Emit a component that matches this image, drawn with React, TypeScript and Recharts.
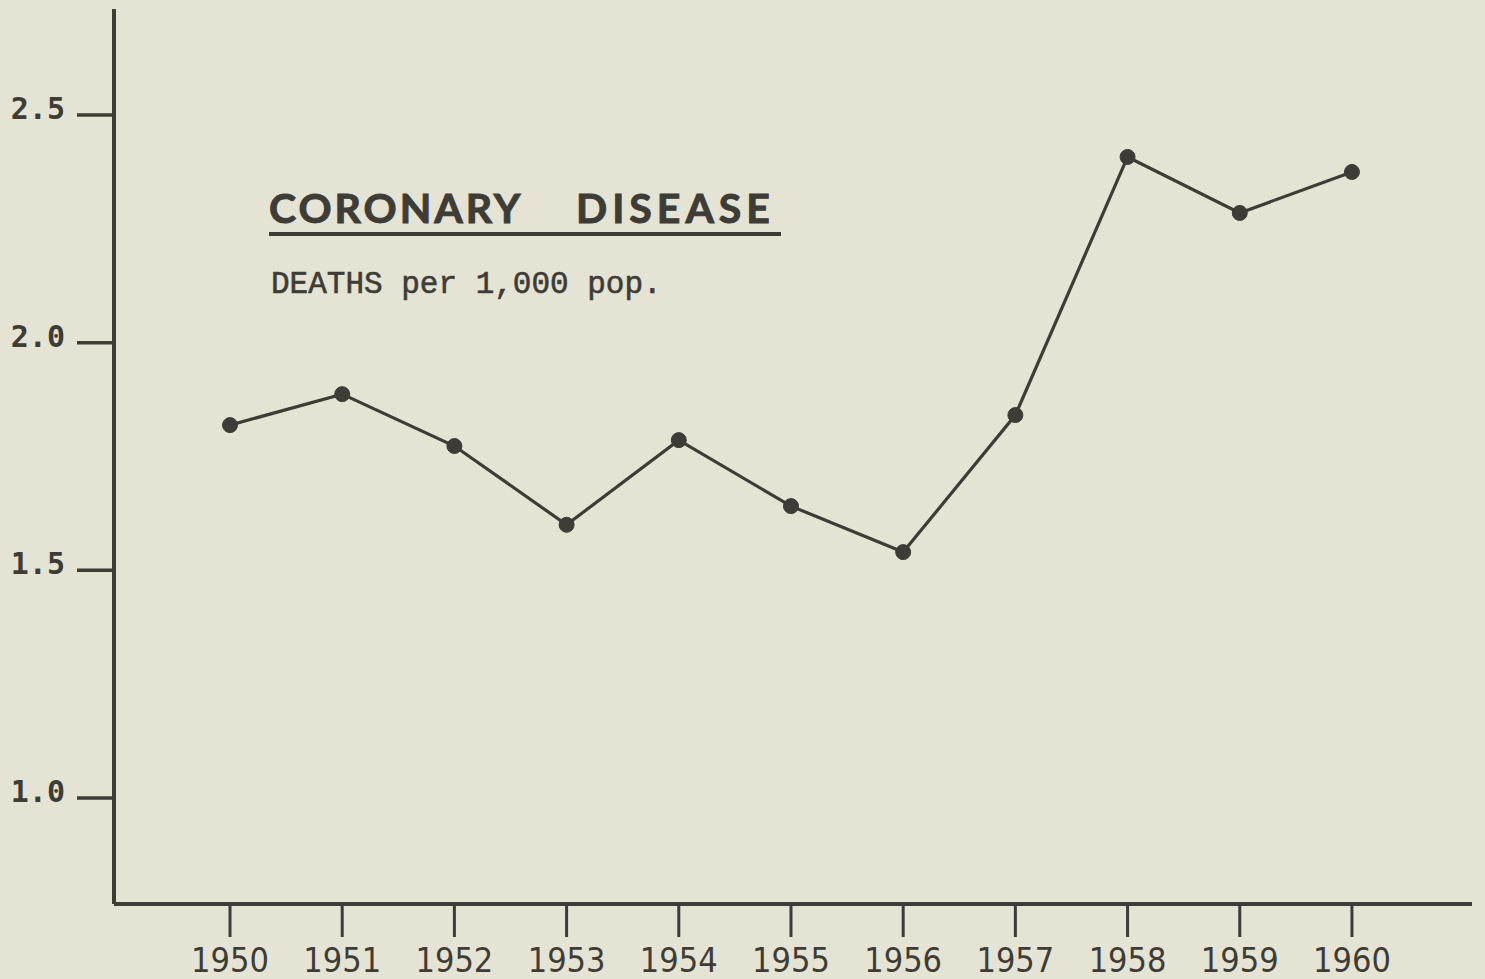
import React from 'react';
import { LineChart, Line, XAxis, YAxis } from 'recharts';

const years = [1950, 1951, 1952, 1953, 1954, 1955, 1956, 1957, 1958, 1959, 1960];
const deathsPer1000 = [1.819, 1.887, 1.773, 1.6, 1.786, 1.641, 1.54, 1.841, 2.408, 2.285, 2.375];
const yTickValues = [1.0, 1.5, 2.0, 2.5];
const yTickLabels = ['1.0', '1.5', '2.0', '2.5'];
const xTickLabels = years.map(String);
const titleWords = ['CORONARY', 'DISEASE'];
const subtitleText = 'DEATHS per 1,000 pop.';

const data = years.map((year, i) => ({ year, value: deathsPer1000[i] }));

const INK = '#3d3c36';
const PAPER = '#e5e3d3';
const W = 1485;
const H = 979;

function YTick(props: any) {
  const { x, y, payload } = props;
  const idx = yTickValues.indexOf(payload.value);
  return (
    <text
      x={x}
      y={y + 4}
      textAnchor="end"
      fill={INK}
      fontFamily="'DejaVu Sans Mono', monospace"
      fontWeight="bold"
      fontSize={30}
    >
      {idx >= 0 ? yTickLabels[idx] : payload.value}
    </text>
  );
}

function XTick(props: any) {
  const { x, y, payload } = props;
  const idx = years.indexOf(payload.value);
  return (
    <text
      x={x}
      y={y + 35}
      textAnchor="middle"
      fill={INK}
      fontFamily="'DejaVu Sans Condensed', 'DejaVu Sans', sans-serif"
      style={{ fontStretch: 'condensed' }}
      fontSize={34}
    >
      {idx >= 0 ? xTickLabels[idx] : payload.value}
    </text>
  );
}

export default function App() {
  return (
    <div style={{ position: 'absolute', left: 0, top: 0, width: W, height: H, background: PAPER, overflow: 'hidden' }}>
      <LineChart
        width={W}
        height={H}
        data={data}
        margin={{ top: 9, right: 13, bottom: 0, left: 0 }}
      >
        <XAxis
          dataKey="year"
          type="number"
          domain={[1948.966, 1961.07]}
          ticks={years}
          allowDataOverflow
          height={75}
          axisLine={{ stroke: INK, strokeWidth: 4 }}
          tickLine={{ stroke: INK, strokeWidth: 3 }}
          tickSize={33}
          tickMargin={0}
          tick={<XTick />}
          interval={0}
        />
        <YAxis
          dataKey="value"
          type="number"
          domain={[0.767, 2.733]}
          ticks={yTickValues}
          allowDataOverflow
          width={114}
          axisLine={{ stroke: INK, strokeWidth: 4 }}
          tickLine={{ stroke: INK, strokeWidth: 3.5 }}
          tickSize={37}
          tickMargin={12}
          tick={<YTick />}
          interval={0}
        />
        <Line
          type="linear"
          dataKey="value"
          stroke={INK}
          strokeWidth={3.2}
          dot={{ r: 7.5, fill: INK, stroke: INK, strokeWidth: 1 }}
          activeDot={false}
          isAnimationActive={false}
        />
      </LineChart>
      <svg width={W} height={H} style={{ position: 'absolute', left: 0, top: 0, pointerEvents: 'none' }}>
        <text
          y={223}
          fill={INK}
          stroke={INK}
          strokeWidth={1}
          fontFamily="Lato, 'DejaVu Sans', sans-serif"
          fontWeight="bold"
          fontSize={41}
        >
          <tspan x={269} letterSpacing={3}>{titleWords[0]}</tspan>
          <tspan x={576} letterSpacing={5}>{titleWords[1]}</tspan>
        </text>
        <line x1={269} x2={781} y1={234} y2={234} stroke={INK} strokeWidth={4} />
        <text
          x={271}
          y={293}
          fill={INK}
          fontFamily="'Liberation Mono', 'Courier New', monospace"
          fontSize={31}
          stroke={INK}
          strokeWidth={0.6}
        >
          {subtitleText}
        </text>
      </svg>
    </div>
  );
}
